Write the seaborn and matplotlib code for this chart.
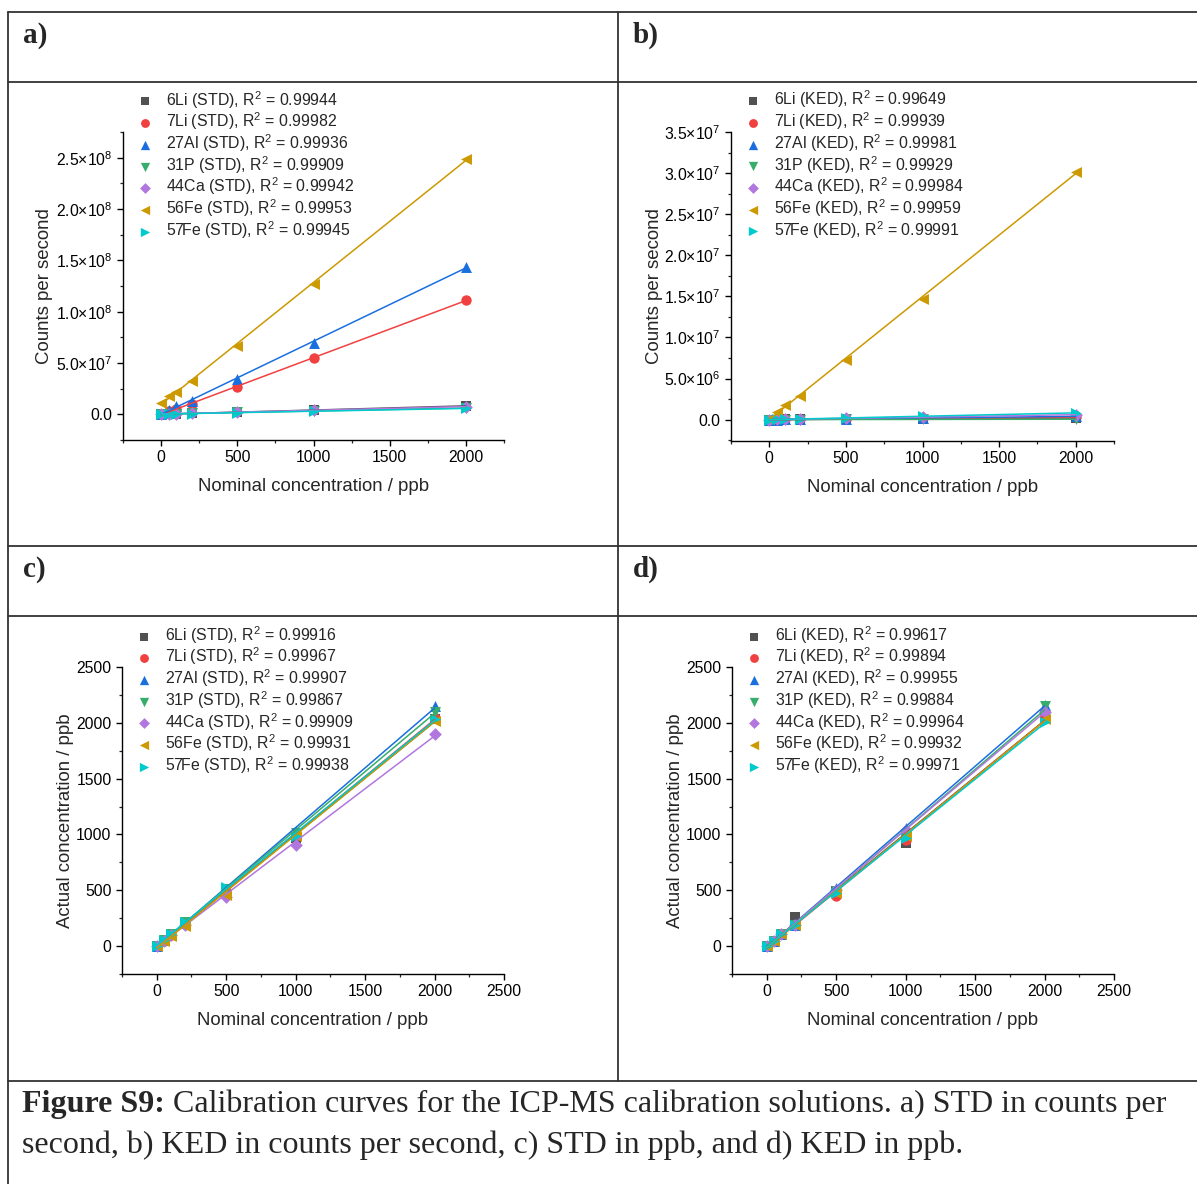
import numpy as np
import pandas as pd
import matplotlib
matplotlib.use("Agg")
import matplotlib.pyplot as plt
import seaborn as sns
from matplotlib.ticker import MultipleLocator, FuncFormatter
from matplotlib.lines import Line2D

# ---------------- data ----------------
conc = [0, 50, 100, 200, 500, 1000, 2000]
species = ["6Li", "7Li", "27Al", "31P", "44Ca", "56Fe", "57Fe"]

# a) STD, counts per second
li6_a = [0.1e6, 0.3e6, 0.5e6, 0.9e6, 2.1e6, 4.1e6, 8.3e6]
li7_a = [0.1e6, 2.8e6, 5.5e6, 10.5e6, 26.4e6, 54.7e6, 111.3e6]
al_a = [0.1e6, 4.3e6, 8.2e6, 13.4e6, 34.6e6, 69.7e6, 143.6e6]
p_a = [0.4e6, 0.5e6, 0.7e6, 1.0e6, 1.9e6, 3.2e6, 6.2e6]
ca_a = [0.2e6, 0.4e6, 0.6e6, 1.0e6, 2.2e6, 3.9e6, 7.6e6]
fe56_a = [11.4e6, 17.6e6, 21.5e6, 32.2e6, 66.4e6, 127.3e6, 248.7e6]
fe57_a = [0.3e6, 0.4e6, 0.5e6, 0.8e6, 1.6e6, 3.0e6, 5.8e6]
r2_a = ["0.99944", "0.99982", "0.99936", "0.99909", "0.99942", "0.99953", "0.99945"]

# b) KED, counts per second
li6_b = [0.0, 0.01e6, 0.02e6, 0.03e6, 0.06e6, 0.10e6, 0.20e6]
li7_b = [0.0, 0.01e6, 0.02e6, 0.04e6, 0.07e6, 0.14e6, 0.26e6]
al_b = [0.0, 0.01e6, 0.02e6, 0.05e6, 0.10e6, 0.20e6, 0.40e6]
p_b = [0.0, 0.0, 0.01e6, 0.01e6, 0.02e6, 0.03e6, 0.05e6]
ca_b = [0.0, 0.02e6, 0.03e6, 0.06e6, 0.15e6, 0.30e6, 0.61e6]
fe56_b = [0.05e6, 0.89e6, 1.79e6, 2.93e6, 7.20e6, 14.65e6, 30.16e6]
fe57_b = [0.0, 0.02e6, 0.04e6, 0.08e6, 0.21e6, 0.42e6, 0.82e6]
r2_b = ["0.99649", "0.99939", "0.99981", "0.99929", "0.99984", "0.99959", "0.99991"]

# c) STD, ppb
li6_c = [0, 50, 100, 195, 485, 965, 2030]
li7_c = [0, 50, 100, 200, 490, 995, 2040]
al_c = [0, 55, 107, 210, 500, 1035, 2150]
p_c = [0, 52, 105, 212, 515, 1010, 2100]
ca_c = [0, 48, 98, 190, 441, 910, 1900]
fe56_c = [-3, 45, 93, 176, 462, 990, 2020]
fe57_c = [0, 56, 110, 215, 530, 985, 2030]
r2_c = ["0.99916", "0.99967", "0.99907", "0.99867", "0.99909", "0.99931", "0.99938"]

# d) KED, ppb
li6_d = [0, 40, 100, 262, 495, 923, 2060]
li7_d = [0, 45, 105, 187, 452, 952, 2050]
al_d = [0, 48, 108, 190, 521, 1057, 2160]
p_d = [0, 45, 105, 187, 490, 990, 2150]
ca_d = [0, 50, 108, 192, 505, 1040, 2100]
fe56_d = [0, 45, 107, 185, 480, 985, 2030]
fe57_d = [0, 45, 105, 187, 479, 970, 2010]
r2_d = ["0.99617", "0.99894", "0.99955", "0.99884", "0.99964", "0.99932", "0.99971"]

colors = ["#515151", "#F14040", "#1A6FDF", "#37AD6B", "#B177DE", "#CC9900", "#00CBCC"]
markers = ["s", "o", "^", "v", "D", "<", ">"]
msizes = [48, 56, 62, 62, 42, 62, 62]

# ---------------- style ----------------
sns.set_style("ticks")
plt.rcParams["font.family"] = ["Liberation Sans", "DejaVu Sans"]
plt.rcParams["mathtext.fontset"] = "custom"
plt.rcParams["mathtext.rm"] = "Liberation Sans"
plt.rcParams["mathtext.it"] = "Liberation Sans:italic"
plt.rcParams["mathtext.bf"] = "Liberation Sans:bold"

W, H = 1197, 1184
fig = plt.figure(figsize=(W / 100, H / 100), dpi=100)
fig.patch.set_facecolor("white")


def px_axes(l, r, t, b):
    return fig.add_axes([l / W, 1 - b / H, (r - l) / W, (b - t) / H])


def sci_fmt(v, pos):
    if abs(v) < 1e-9:
        return "0.0"
    e = int(np.floor(np.log10(abs(v)) + 1e-9))
    m = v / 10 ** e
    return f"{m:.1f}×10$^{{{e}}}$"


def panel(ax, series, r2s, mode, ylim, ymaj, xmax, ylabel, ylab_x):
    for i, sp in enumerate(species):
        df = pd.DataFrame({"x": conc, "y": series[i]})
        sns.regplot(data=df, x="x", y="y", ax=ax, ci=None, truncate=True,
                    marker=markers[i], color=colors[i],
                    label=f"{sp} ({mode}), R$^{{2}}$ = {r2s[i]}",
                    scatter_kws={"s": msizes[i], "linewidths": 0, "alpha": 1},
                    line_kws={"lw": 1.1})
    ax.set_xlim(-250, xmax)
    ax.set_ylim(*ylim)
    ax.xaxis.set_major_locator(MultipleLocator(500))
    ax.xaxis.set_minor_locator(MultipleLocator(250))
    ax.yaxis.set_major_locator(MultipleLocator(ymaj))
    ax.yaxis.set_minor_locator(MultipleLocator(ymaj / 2))
    for s in ["top", "right"]:
        ax.spines[s].set_visible(False)
    for s in ["left", "bottom"]:
        ax.spines[s].set_linewidth(1.0)
        ax.spines[s].set_color("black")
    ax.tick_params(which="major", direction="out", length=4.5, width=1.0,
                   labelsize=11.3, colors="black", pad=3)
    ax.tick_params(which="minor", direction="out", length=2.5, width=0.9)
    ax.set_xlabel("Nominal concentration / ppb", fontsize=13.4, labelpad=9)
    ax.set_ylabel(ylabel, fontsize=13.4)
    ax.yaxis.set_label_coords(ylab_x, 0.5)
    ax.set_facecolor("white")
    ax.grid(False)
    ax.legend(loc="upper left", bbox_to_anchor=(0.036, 1.14), frameon=False,
              fontsize=11.4, handlelength=1.0, handletextpad=0.85,
              labelspacing=0.0, borderpad=0, borderaxespad=0, markerscale=0.85,
              scatterpoints=1)


ax_a = px_axes(123, 504, 132, 440)
panel(ax_a, [li6_a, li7_a, al_a, p_a, ca_a, fe56_a, fe57_a], r2_a, "STD",
      (-2.5e7, 2.75e8), 5e7, 2250, "Counts per second", -0.184)
ax_a.yaxis.set_major_formatter(FuncFormatter(sci_fmt))

ax_b = px_axes(731, 1114, 132, 441)
panel(ax_b, [li6_b, li7_b, al_b, p_b, ca_b, fe56_b, fe57_b], r2_b, "KED",
      (-2.6e6, 3.5e7), 5e6, 2250, "Counts per second", -0.178)
ax_b.yaxis.set_major_formatter(FuncFormatter(sci_fmt))

ax_c = px_axes(122, 504, 667, 974)
panel(ax_c, [li6_c, li7_c, al_c, p_c, ca_c, fe56_c, fe57_c], r2_c, "STD",
      (-250, 2500), 500, 2500, "Actual concentration / ppb", -0.126)

ax_d = px_axes(732, 1114, 667, 974)
panel(ax_d, [li6_d, li7_d, al_d, p_d, ca_d, fe56_d, fe57_d], r2_d, "KED",
      (-250, 2500), 500, 2500, "Actual concentration / ppb", -0.126)

# ---------------- table frame ----------------
lc = "#333333"


def hline(y, x0=8, x1=W):
    fig.add_artist(Line2D([x0 / W, x1 / W], [1 - y / H, 1 - y / H],
                          transform=fig.transFigure, color=lc, lw=1.3))


def vline(x, y0, y1):
    fig.add_artist(Line2D([x / W, x / W], [1 - y0 / H, 1 - y1 / H],
                          transform=fig.transFigure, color=lc, lw=1.3))


for yy in [12, 82, 546, 616, 1081]:
    hline(yy)
vline(8, 12, H)
vline(618, 12, 1081)

serif = ["Liberation Serif", "DejaVu Serif"]
for lab, x, y in [("a)", 23, 43), ("b)", 633, 43), ("c)", 23, 577), ("d)", 633, 577)]:
    fig.text(x / W, 1 - y / H, lab, fontsize=21, fontweight="bold",
             family=serif, ha="left", va="baseline")

# caption
cap_size = 23.0
renderer = fig.canvas.get_renderer()
t_bold = fig.text(22 / W, 1 - 1112 / H, "Figure S9:", fontsize=cap_size,
                  fontweight="bold", family=serif, ha="left", va="baseline")
bb = t_bold.get_window_extent(renderer=renderer)
fig.text(bb.x1 / W, 1 - 1112 / H,
         " Calibration curves for the ICP-MS calibration solutions. a) STD in counts per",
         fontsize=cap_size, family=serif, ha="left", va="baseline")
fig.text(22 / W, 1 - 1153 / H,
         "second, b) KED in counts per second, c) STD in ppb, and d) KED in ppb.",
         fontsize=cap_size, family=serif, ha="left", va="baseline")

fig.savefig("out.png", dpi=100, facecolor="white")
